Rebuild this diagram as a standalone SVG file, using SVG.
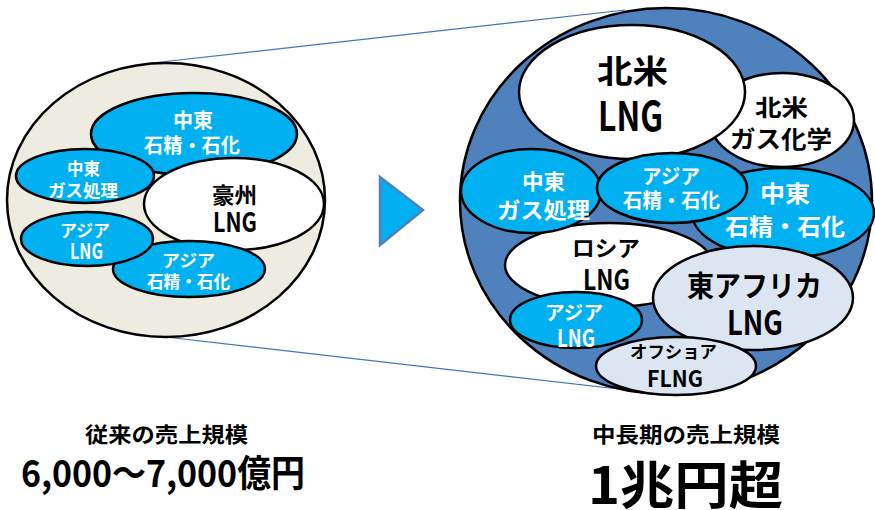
<svg xmlns="http://www.w3.org/2000/svg" width="875" height="510" viewBox="0 0 875 510">
<style>
text{font-family:"Noto Sans CJK JP","Noto Sans",sans-serif;font-weight:bold;text-anchor:middle;dominant-baseline:central}
.w{fill:#ffffff}
.k{fill:#000000}
.e{stroke:#000;stroke-width:2.5}
.blue{fill:#00B0F0}
.white{fill:#ffffff}
.light{fill:#DCE6F2}
.conn{stroke:#4472C4;stroke-width:1.2;fill:none}
</style>
<g id="connectors">
<line class="conn" x1="152" y1="63" x2="625" y2="10"/>
<line class="conn" x1="157" y1="336" x2="662" y2="394"/>
</g>
<g id="arrow">
<polygon points="380,177 380,245 423,210" fill="#00B0F0" stroke="#4F81BD" stroke-width="2.5" stroke-linejoin="miter"/>
</g>
<g id="left-circle">
<ellipse class="e" cx="166" cy="200" rx="159" ry="137" fill="#EEECE1"/>
</g>
<g id="l-me-petro">
<ellipse class="e blue" cx="194" cy="134" rx="103" ry="41"/>
<text class="w" x="193" y="119" font-size="20" textLength="40" lengthAdjust="spacingAndGlyphs">中東</text>
<text class="w" x="192" y="144.5" font-size="20" textLength="96" lengthAdjust="spacingAndGlyphs">石精・石化</text>
</g>
<g id="l-me-gas">
<ellipse class="e blue" cx="85" cy="176" rx="69" ry="27"/>
<text class="w" x="83.5" y="167.5" font-size="17" textLength="33" lengthAdjust="spacingAndGlyphs">中東</text>
<text class="w" x="83" y="189.5" font-size="17" textLength="70" lengthAdjust="spacingAndGlyphs">ガス処理</text>
</g>
<g id="l-aus-lng">
<ellipse class="e white" cx="234" cy="204" rx="90" ry="46"/>
<text class="k" x="234.5" y="192.5" font-size="22" textLength="45" lengthAdjust="spacingAndGlyphs">豪州</text>
<text class="k" x="235" y="220" font-size="27" textLength="44" lengthAdjust="spacingAndGlyphs">LNG</text>
</g>
<g id="l-asia-petro">
<ellipse class="e blue" cx="189" cy="269" rx="76" ry="28"/>
<text class="w" x="188.5" y="259.5" font-size="17" textLength="53" lengthAdjust="spacingAndGlyphs">アジア</text>
<text class="w" x="188.5" y="280.5" font-size="17" textLength="83" lengthAdjust="spacingAndGlyphs">石精・石化</text>
</g>
<g id="l-asia-lng">
<ellipse class="e blue" cx="87" cy="239" rx="66" ry="27"/>
<text class="w" x="85" y="229.5" font-size="17" textLength="50" lengthAdjust="spacingAndGlyphs">アジア</text>
<text class="w" x="86.5" y="250" font-size="21" textLength="33" lengthAdjust="spacingAndGlyphs">LNG</text>
</g>
<g id="right-circle">
<ellipse class="e" cx="666" cy="201" rx="206" ry="193" fill="#4F81BD"/>
</g>
<g id="r-na-gaschem">
<ellipse class="e white" cx="782" cy="120" rx="72" ry="47"/>
<text class="k" x="781.5" y="106" font-size="23" textLength="53" lengthAdjust="spacingAndGlyphs">北米</text>
<text class="k" x="781" y="137" font-size="24" textLength="102" lengthAdjust="spacingAndGlyphs">ガス化学</text>
</g>
<g id="r-na-lng">
<ellipse class="e white" cx="632" cy="92" rx="113" ry="67"/>
<text class="k" x="632.5" y="69" font-size="32" textLength="71" lengthAdjust="spacingAndGlyphs">北米</text>
<text class="k" x="630.5" y="112.5" font-size="41" textLength="65" lengthAdjust="spacingAndGlyphs">LNG</text>
</g>
<g id="r-russia-lng">
<ellipse class="e white" cx="609" cy="265" rx="104" ry="42"/>
<text class="k" x="606" y="246" font-size="22" textLength="68" lengthAdjust="spacingAndGlyphs">ロシア</text>
<text class="k" x="606.5" y="277.5" font-size="28" textLength="47" lengthAdjust="spacingAndGlyphs">LNG</text>
</g>
<g id="r-me-petro">
<ellipse class="e blue" cx="783" cy="213" rx="91" ry="45"/>
<text class="w" x="785" y="191.5" font-size="23" textLength="50" lengthAdjust="spacingAndGlyphs">中東</text>
<text class="w" x="785" y="225" font-size="23" textLength="120" lengthAdjust="spacingAndGlyphs">石精・石化</text>
</g>
<g id="r-me-gas">
<ellipse class="e blue" cx="531" cy="191" rx="70" ry="42"/>
<text class="w" x="543.5" y="180" font-size="21" textLength="43" lengthAdjust="spacingAndGlyphs">中東</text>
<text class="w" x="543.5" y="207.5" font-size="22" textLength="93" lengthAdjust="spacingAndGlyphs">ガス処理</text>
</g>
<g id="r-asia-petro">
<ellipse class="e blue" cx="672" cy="188" rx="75" ry="35"/>
<text class="w" x="671" y="175" font-size="20" textLength="58" lengthAdjust="spacingAndGlyphs">アジア</text>
<text class="w" x="671.5" y="199" font-size="20" textLength="97" lengthAdjust="spacingAndGlyphs">石精・石化</text>
</g>
<g id="r-eafrica-lng">
<ellipse class="e light" cx="753" cy="298" rx="100" ry="52"/>
<text class="k" x="754.5" y="283.5" font-size="29" textLength="135" lengthAdjust="spacingAndGlyphs">東アフリカ</text>
<text class="k" x="755" y="320.5" font-size="34" textLength="56" lengthAdjust="spacingAndGlyphs">LNG</text>
</g>
<g id="r-asia-lng">
<ellipse class="e blue" cx="576" cy="320" rx="66" ry="28"/>
<text class="w" x="574" y="311" font-size="19" textLength="58" lengthAdjust="spacingAndGlyphs">アジア</text>
<text class="w" x="576" y="336" font-size="24" textLength="38" lengthAdjust="spacingAndGlyphs">LNG</text>
</g>
<g id="r-offshore-flng">
<ellipse class="e light" cx="676" cy="366" rx="80" ry="29"/>
<text class="k" x="673.5" y="350" font-size="17" font-weight="500" textLength="87" lengthAdjust="spacingAndGlyphs">オフショア</text>
<text class="k" x="675" y="376.5" font-size="23" font-weight="500" textLength="56" lengthAdjust="spacingAndGlyphs">FLNG</text>
</g>
<g id="captions">
<text class="k" x="166.5" y="432.5" font-size="21" textLength="163" lengthAdjust="spacingAndGlyphs">従来の売上規模</text>
<text class="k" x="163" y="471" font-size="37" font-weight="500" textLength="284" lengthAdjust="spacingAndGlyphs">6,000～7,000億円</text>
<text class="k" x="686" y="432.5" font-size="21" textLength="188" lengthAdjust="spacingAndGlyphs">中長期の売上規模</text>
<text class="k" x="685.5" y="482" font-size="51" textLength="195" lengthAdjust="spacingAndGlyphs">1兆円超</text>
</g>
</svg>
